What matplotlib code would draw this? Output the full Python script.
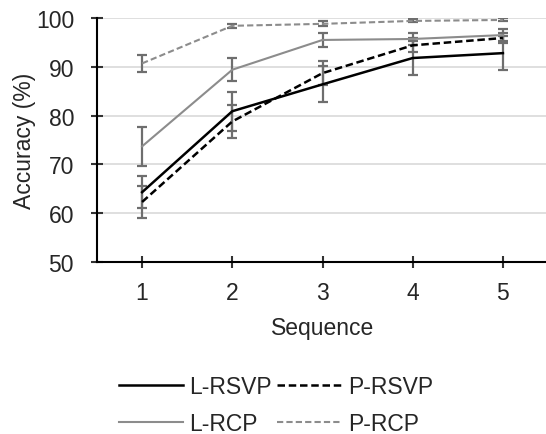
import matplotlib.pyplot as plt
import numpy as np

plt.rcParams['font.family'] = ['Liberation Sans', 'DejaVu Sans']

sequence = [1, 2, 3, 4, 5]

l_rsvp = [64.3, 80.9, 86.4, 91.8, 92.8]
l_rsvp_err = [3.3, 4.0, 3.7, 3.5, 3.5]
p_rsvp = [62.3, 78.8, 88.7, 94.4, 95.9]
p_rsvp_err = [3.3, 3.3, 2.4, 1.4, 1.0]
l_rcp = [73.7, 89.4, 95.5, 95.7, 96.5]
l_rcp_err = [4.0, 2.4, 1.5, 1.2, 1.2]
p_rcp = [90.7, 98.4, 98.8, 99.4, 99.6]
p_rcp_err = [1.8, 0.4, 0.5, 0.3, 0.3]

fs = 16.5
txt = '#262626'

fig = plt.figure(figsize=(5.46, 4.35), dpi=100)
ax = fig.add_axes([97 / 546, 172 / 435, 451 / 546, 244 / 435])

err_color = '#6e6e6e'
eb = dict(ecolor=err_color, elinewidth=1.6, capsize=3.6, capthick=1.6)

h1 = ax.errorbar(sequence, l_rsvp, yerr=l_rsvp_err, color='black', lw=1.8, ls='-', **eb)
h2 = ax.errorbar(sequence, p_rsvp, yerr=p_rsvp_err, color='black', lw=1.8, ls=(0, (3, 1.5)), **eb)
h3 = ax.errorbar(sequence, l_rcp, yerr=l_rcp_err, color='#8c8c8c', lw=1.5, ls='-', **eb)
h4 = ax.errorbar(sequence, p_rcp, yerr=p_rcp_err, color='#8c8c8c', lw=1.5, ls=(0, (3, 1.5)), **eb)

ax.set_xlim(0.5, 5.5)
ax.set_ylim(50, 100)
ax.set_yticks(np.arange(50, 101, 10))
ax.set_xticks(sequence)
ax.yaxis.grid(True, color='#d9d9d9', lw=1.2)
ax.set_axisbelow(True)
for s in ['top', 'right']:
    ax.spines[s].set_visible(False)
for s in ['left', 'bottom']:
    ax.spines[s].set_linewidth(1.5)
    ax.spines[s].set_color('black')
ax.tick_params(direction='inout', length=9, width=1.5, labelsize=fs, colors='#333333', labelcolor=txt)
ax.tick_params(axis='y', pad=12)
ax.tick_params(axis='x', pad=9)

ax.set_xlabel('Sequence', fontsize=fs, color=txt, labelpad=9)
ax.set_ylabel('Accuracy (%)', fontsize=fs, color=txt, labelpad=0)

lh = [h[0] for h in (h1, h3, h2, h4)]
labels = ['L-RSVP', 'L-RCP', 'P-RSVP', 'P-RCP']
fig.legend(lh, labels, ncol=2, loc='center', bbox_to_anchor=(0.505, 0.066),
           frameon=False, fontsize=fs, handlelength=2.8, handletextpad=0.3,
           columnspacing=0.2, labelspacing=0.6, labelcolor=txt)

fig.savefig('out.png', dpi=100)
